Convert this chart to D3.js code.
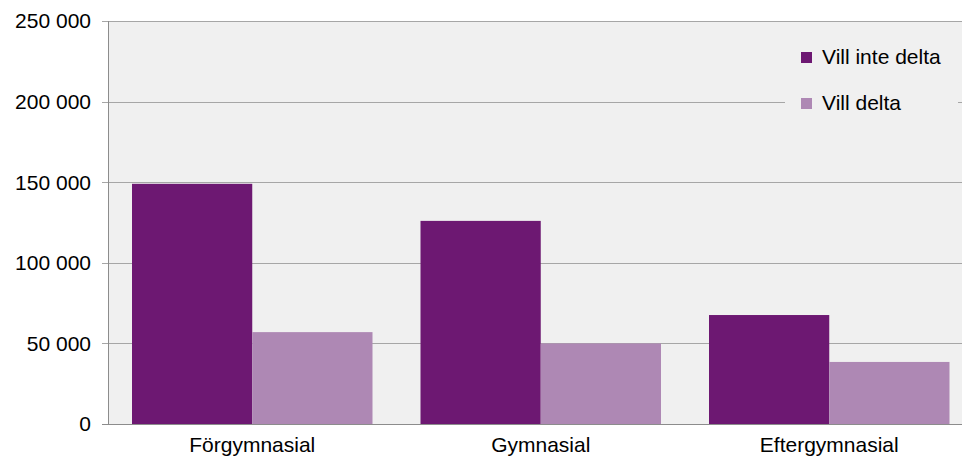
<!DOCTYPE html>
<html>
<head>
<meta charset="utf-8">
<script src="https://cdn.jsdelivr.net/npm/d3@7"></script>
<style>
  body { margin: 0; background: #fff; }
  svg text { font-family: "Liberation Sans", Arial, sans-serif; fill: #000; }
</style>
</head>
<body>
<svg id="chart" width="962" height="458"></svg>
<script>
// categories and series
let categories = ['Förgymnasial', 'Gymnasial', 'Eftergymnasial'];
let seriesNames = ['Vill inte delta', 'Vill delta'];
let villInteDelta = [149000, 126000, 67600];
let villDelta = [57000, 50000, 38500];
let yTicks = [0, 50000, 100000, 150000, 200000, 250000];
let colors = ['#6d1872', '#ae88b4'];

let svg = d3.select('svg#chart');

let plotLeft = 108, plotTop = 21, plotBottom = 424;
let bandW = 288.5;
let plotRight = plotLeft + bandW * categories.length;

let yScale = d3.scaleLinear()
  .domain([0, 250000])
  .range([plotBottom, plotTop]);

let xScale = d3.scaleBand()
  .domain(categories)
  .range([plotLeft, plotRight])
  .paddingInner(48 / 288.5)
  .paddingOuter(24 / 288.5);

let xSub = d3.scaleBand()
  .domain(seriesNames)
  .range([0, xScale.bandwidth()]);

// plot background
svg.append('rect')
  .attr('x', plotLeft)
  .attr('y', plotTop)
  .attr('width', plotRight - plotLeft)
  .attr('height', plotBottom - plotTop)
  .attr('fill', '#f0f0f0');

// gridlines
svg.append('g')
  .selectAll('line')
  .data(yTicks)
  .enter().append('line')
  .attr('x1', plotLeft - 6)
  .attr('x2', plotRight)
  .attr('y1', d => Math.round(yScale(d)) + 0.5)
  .attr('y2', d => Math.round(yScale(d)) + 0.5)
  .attr('stroke', d => d == 0 ? '#8c8c8c' : '#a6a6a6')
  .attr('stroke-width', 1);

// y axis labels
let fmt = d => d3.format(',')(d).replace(/,/g, ' ');
svg.append('g')
  .selectAll('text')
  .data(yTicks)
  .enter().append('text')
  .attr('x', plotLeft - 17)
  .attr('y', d => yScale(d))
  .attr('dy', '0.35em')
  .attr('text-anchor', 'end')
  .style('font-size', '21px')
  .text(d => fmt(d));

// bars
let rows = categories.map((c, i) => ({ cat: c, values: [villInteDelta[i], villDelta[i]] }));
let groups = svg.append('g')
  .selectAll('g')
  .data(rows)
  .enter().append('g')
  .attr('transform', d => `translate(${xScale(d.cat)},0)`);

groups.selectAll('rect')
  .data(d => d.values.map((v, j) => ({ name: seriesNames[j], value: v, j: j })))
  .enter().append('rect')
  .attr('x', d => xSub(d.name))
  .attr('width', xSub.bandwidth())
  .attr('y', d => yScale(d.value))
  .attr('height', d => plotBottom - yScale(d.value))
  .attr('fill', d => colors[d.j]);

// left axis line
svg.append('line')
  .attr('x1', plotLeft + 0.5).attr('x2', plotLeft + 0.5)
  .attr('y1', plotTop).attr('y2', plotBottom + 1)
  .attr('stroke', '#8c8c8c');

// category labels
svg.append('g')
  .selectAll('text')
  .data(categories)
  .enter().append('text')
  .attr('x', d => xScale(d) + xScale.bandwidth() / 2)
  .attr('y', 452)
  .attr('text-anchor', 'middle')
  .style('font-size', '21px')
  .text(d => d);

// legend
let legend = svg.append('g');
legend.append('rect')
  .attr('x', 785).attr('y', 32)
  .attr('width', 173).attr('height', 95)
  .attr('fill', '#f0f0f0');
let items = legend.selectAll('g')
  .data(seriesNames)
  .enter().append('g')
  .attr('transform', (d, i) => `translate(801, ${52 + i * 46})`);
items.append('rect')
  .attr('width', 11).attr('height', 11)
  .attr('fill', (d, i) => colors[i]);
items.append('text')
  .attr('x', 21)
  .attr('y', 12)
  .style('font-size', '21px')
  .text(d => d);
</script>
</body>
</html>
